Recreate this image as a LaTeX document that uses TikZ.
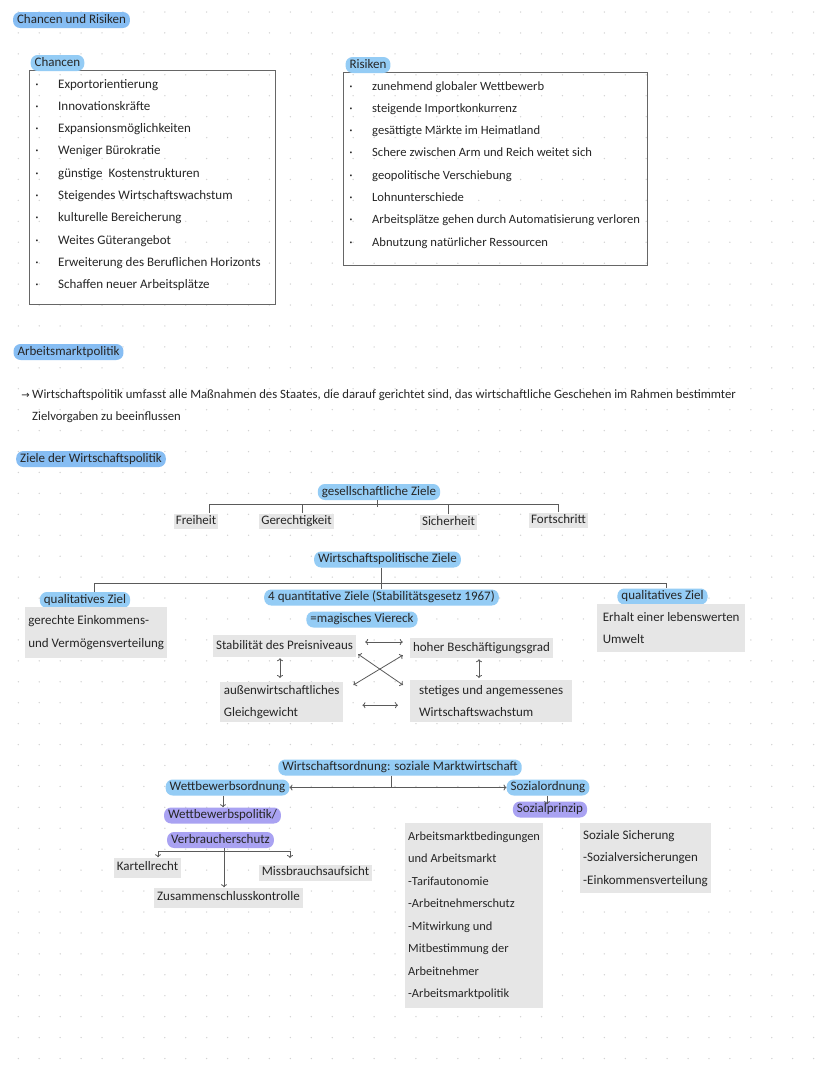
\documentclass[tikz,border=0pt]{standalone}
\usepackage{fontspec}
\setmainfont{Carlito}
\newfontfamily\symf{DejaVu Sans}
\usetikzlibrary{arrows.meta,calc}
\definecolor{hlblue}{HTML}{94CCF5}
\definecolor{hltitle}{HTML}{86BDF3}
\definecolor{hlpurple}{HTML}{A9A2F2}
\definecolor{greyf}{HTML}{E6E6E6}
\definecolor{ink}{HTML}{262626}
\definecolor{lineC}{HTML}{5A5A5A}
\definecolor{frameC}{HTML}{666666}
\definecolor{dotC}{HTML}{D2D2D2}
\begin{document}
\begin{tikzpicture}[x=1pt,y=-1pt,
  base/.style={inner sep=0pt, font=\fontsize{13}{16}\selectfont, text=ink},
  lbl/.style={base, text height=9pt, text depth=3pt},
  rlbl/.style={lbl, font=\fontsize{12.6}{15}\selectfont},
  sent/.style={lbl, font=\fontsize{12.7}{15}\selectfont},
  pill/.style={lbl, fill=hlblue, rounded corners=7pt, inner xsep=4pt, inner ysep=2pt},
  tpill/.style={pill, fill=hltitle},
  ppill/.style={pill, fill=hlpurple},
  glabel/.style={lbl, fill=greyf, inner xsep=2pt, inner ysep=1.5pt},
  gbox/.style={base, fill=greyf, align=left, anchor=north west, inner xsep=3pt, inner ysep=0pt, font=\fontsize{13}{22.5}\selectfont},
  frame/.style={draw=frameC, line width=0.9pt, inner sep=0pt, anchor=north west},
  conn/.style={draw=lineC, line width=0.8pt},
  arr/.style={conn, -{To[length=3pt,width=6pt]}},
  darr/.style={conn, {To[length=3pt,width=6pt]}-{To[length=3pt,width=6pt]}},
]
\fill[white] (0,0) rectangle (828,1069);
\useasboundingbox (0,0) rectangle (828,1069);
\foreach \i in {0,...,38}{\foreach \j in {0,...,50}{\fill[dotC] ({18.3+\i*20.93},{12+\j*20.93}) circle (0.75pt);}}

% ---------- Chancen und Risiken ----------
\node[tpill] (t1) at (71.5,20) {Chancen und Risiken};

\node[frame, minimum width=246, minimum height=234] (chbox) at (29,70) {};
\node[pill] (chl) at (57.5,63) {Chancen};
\foreach \t [count=\k from 0] in {Exportorientierung, Innovationskräfte, Expansionsmöglichkeiten, Weniger Bürokratie, günstige\ \ Kostenstrukturen, Steigendes Wirtschaftswachstum, kulturelle Bereicherung, Weites Güterangebot, Erweiterung des Beruflichen Horizonts, Schaffen neuer Arbeitsplätze}{
  \node[lbl, anchor=west] (ch\k) at (58,{85+22.3*\k}) {\t};
  \node[lbl] (chb\k) at (37,{85+22.3*\k}) {·};
}

\node[frame, minimum width=304, minimum height=193] (rsbox) at (343,72) {};
\node[pill] (rsl) at (368,65) {Risiken};
\foreach \t [count=\k from 0] in {zunehmend globaler Wettbewerb, steigende Importkonkurrenz, gesättigte Märkte im Heimatland, Schere zwischen Arm und Reich weitet sich, geopolitische Verschiebung, Lohnunterschiede, Arbeitsplätze gehen durch Automatisierung verloren, Abnutzung natürlicher Ressourcen}{
  \node[rlbl, anchor=west] (rs\k) at (372,{87+22.3*\k}) {\t};
  \node[lbl] (rsb\k) at (351,{87+22.3*\k}) {·};
}

% ---------- Arbeitsmarktpolitik ----------
\node[tpill] (t2) at (68.5,352) {Arbeitsmarktpolitik};
\node[sent, anchor=east, font={\symf\fontsize{10}{12}\selectfont}] (s0) at (30,395) {→};
\node[sent, anchor=west] (s1) at (32,395) {Wirtschaftspolitik umfasst alle Maßnahmen des Staates, die darauf gerichtet sind, das wirtschaftliche Geschehen im Rahmen bestimmter};
\node[sent, anchor=west] (s2) at (32,417) {Zielvorgaben zu beeinflussen};

\node[tpill] (t3) at (91,459) {Ziele der Wirtschaftspolitik};

% ---------- gesellschaftliche Ziele ----------
\node[pill] (gz) at (379,492) {gesellschaftliche Ziele};
\node[glabel] (fr) at (196,521) {Freiheit};
\node[glabel] (ge) at (296.5,521) {Gerechtigkeit};
\node[glabel] (si) at (448.5,522) {Sicherheit};
\node[glabel] (fo) at (558.5,520) {Fortschritt};
\draw[conn] ([xshift=-2pt]gz.south) -- ++(0,7);
\draw[conn] ([xshift=-9pt]fr.north east) -- ++(0,-9) -| (fo.north);
\draw[conn] ([xshift=5.5pt]ge.north) -- ++(0,-9);
\draw[conn] (si.north) -- ++(0,-9);

% ---------- Wirtschaftspolitische Ziele ----------
\node[pill] (wz) at (387.5,559.5) {Wirtschaftspolitische Ziele};
\node[pill] (ql) at (85,600) {qualitatives Ziel};
\node[gbox, minimum width=142, minimum height=51] (qlb) at (25,607) {gerechte Einkommens-\\und Vermögensverteilung};
\node[pill] (qr) at (662.5,596.5) {qualitatives Ziel};
\node[gbox, minimum width=148, minimum height=48] (qrb) at (597,604) {Erhalt einer lebenswerten\\Umwelt};
\node[pill] (qn) at (381.5,597.5) {4 quantitative Ziele (Stabilitätsgesetz 1967)};
\node[pill] (mv) at (362,619.5) {=magisches Viereck};
\coordinate (wj) at (381,583);
\draw[conn] (wz.south -| wj) -- (qn.north -| wj);
\draw[conn] (ql.north -| 94,0) -- (94,583) -- (666,583) -- (qr.north -| 666,0);

\node[glabel, inner xsep=3pt, inner ysep=5pt] (pr) at (284.5,646) {Stabilität des Preisniveaus};
\node[glabel, inner xsep=3pt, inner ysep=4pt] (hb) at (481.5,648) {hoher Beschäftigungsgrad};
\node[gbox, minimum width=123, minimum height=40] (aw) at (220,682) {außenwirtschaftliches\\Gleichgewicht};
\node[gbox, minimum width=162, minimum height=42] (sw) at (410,680) {stetiges und angemessenes\\Wirtschaftswachstum};
\draw[darr] ($(pr.east)+(9,-4)$) -- ($(hb.west)+(-7,-6)$);
\draw[darr, shorten <=1pt, shorten >=4pt] (pr.south -| 280,0) -- (aw.north -| 280,0);
\draw[darr, shorten <=1pt, shorten >=2pt] (hb.south -| 479,0) -- (sw.north -| 479,0);
\draw[darr] ($(pr.south east)+(2,-3)$) -- ($(sw.north west)+(-7,5)$);
\draw[darr] ($(aw.north east)+(10,3)$) -- ($(hb.south west)+(-7,-3)$);
\draw[darr] ($(aw.east)+(19,3)$) -- ($(sw.west)+(-12,4)$);

% ---------- Wirtschaftsordnung ----------
\node[pill] (wo) at (400,767.5) {Wirtschaftsordnung: soziale Marktwirtschaft};
\node[pill] (wb) at (227.5,787.5) {Wettbewerbsordnung};
\node[pill] (so) at (548,787.5) {Sozialordnung};
\coordinate (oj) at (391,788);
\draw[conn] (wo.south -| oj) -- (oj);
\draw[darr] (wb.east) -- (so.west);
\node[ppill] (wp) at (222.5,815.5) {Wettbewerbspolitik/};
\node[ppill] (vs) at (220.5,840) {Verbraucherschutz};
\draw[arr] (wb.south -| 223,0) -- (wp.north -| 223,0);
\node[ppill] (sp) at (550,809.5) {Sozialprinzip};
\draw[arr, shorten >=-3pt] (so.south -| 547,0) -- (sp.north -| 547,0);

\node[glabel, inner xsep=3pt, inner ysep=4pt] (kr) at (147.5,867.5) {Kartellrecht};
\node[glabel, inner xsep=3pt, inner ysep=2pt] (ma) at (315.5,872.5) {Missbrauchsaufsicht};
\node[glabel, inner xsep=3pt, inner ysep=4pt] (zk) at (228.5,897.5) {Zusammenschlusskontrolle};
\coordinate (vl) at (158,851);
\coordinate (vr) at (290,851);
\draw[conn] (vl) -- (vr);
\draw[arr] (vs.south -| 224,0) -- (zk.north -| 224,0);
\draw[arr] (vl) -- (kr.north -| vl);
\draw[arr] (vr) -- (290,858);

\node[gbox, font=\fontsize{12.4}{22.5}\selectfont, minimum width=135, minimum height=185] (am) at (405,823) {Arbeitsmarktbedingungen\\und Arbeitsmarkt\\-Tarifautonomie\\-Arbeitnehmerschutz\\-Mitwirkung und\\Mitbestimmung der\\Arbeitnehmer\\-Arbeitsmarktpolitik};
\node[gbox, minimum width=130, minimum height=70] (ss) at (580,823) {Soziale Sicherung\\-Sozialversicherungen\\-Einkommensverteilung};
\end{tikzpicture}
\end{document}
